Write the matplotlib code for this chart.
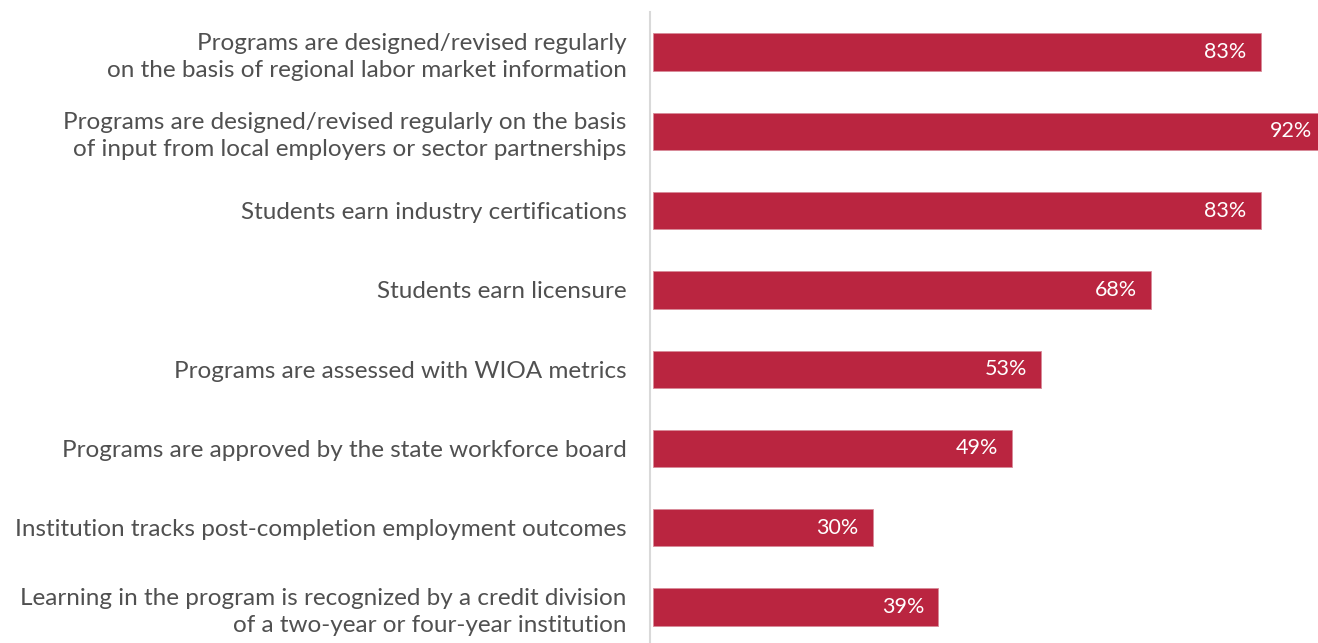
import matplotlib
matplotlib.use('Agg')
import matplotlib.pyplot as plt

labels = ["Programs are designed/revised regularly\non the basis of regional labor market information",
          "Programs are designed/revised regularly on the basis\nof input from local employers or sector partnerships",
          "Students earn industry certifications",
          "Students earn licensure",
          "Programs are assessed with WIOA metrics",
          "Programs are approved by the state workforce board",
          "Institution tracks post-completion employment outcomes",
          "Learning in the program is recognized by a credit division\nof a two-year or four-year institution"]
values = [83, 92, 83, 68, 53, 49, 30, 39]

plt.rcParams['font.family'] = ['Lato', 'DejaVu Sans']

W, H = 1318, 643
fig = plt.figure(figsize=(W / 100, H / 100), dpi=100)
# axes from x=653px to right edge, y from 12px down to bottom
ax = fig.add_axes([653 / W, 0, 1 - 653 / W, (H - 12) / H])

# spines first (set_position resets the ticks)
for s in ['top', 'right', 'bottom']:
    ax.spines[s].set_visible(False)
ax.spines['left'].set_color('#d9d9d9')
ax.spines['left'].set_linewidth(1.5)
ax.spines['left'].set_position(('outward', 2))

pos = list(range(len(values)))
ax.barh(pos, values, height=0.47, color='#BA2540', edgecolor='#d88a98', linewidth=0.6)

step = 79.3
ax.set_ylim((H - 52) / step, (12 - 52) / step)
ax.set_xlim(0, (W - 653) / 7.32)

for p, v in zip(pos, values):
    ax.annotate(f"{v}%", (v, p), xytext=(-10, 0), textcoords='offset points',
                ha='right', va='center', color='white', fontsize=15.5,
                annotation_clip=False)

ax.set_xticks([])
ax.tick_params(axis='y', length=0, pad=17)
ax.set_yticks(pos)
ax.set_yticklabels(labels, fontsize=17.5, color='#505050',
                   ha='right', multialignment='right', linespacing=1.35)

fig.savefig('out.png', dpi=100)
